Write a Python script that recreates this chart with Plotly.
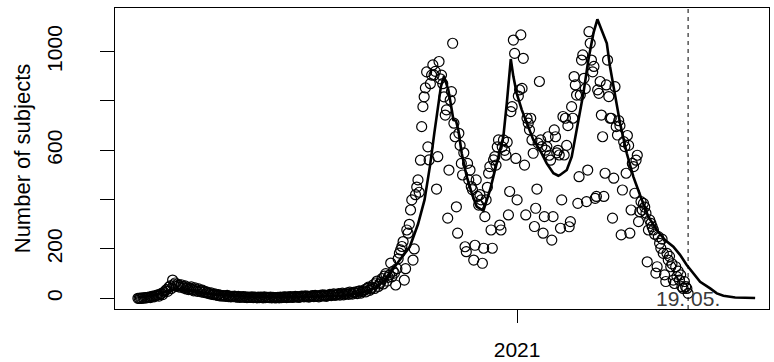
import pandas as pd
import plotly.graph_objects as go

start_date = "2020-03-01"

# daily observed counts (one value per day from start_date), written week by week
daily_counts = [
    0, 0, 1, 0, 2, 1, 3,
    2, 4, 5, 3, 7, 9, 6,
    10, 12, 14, 9, 16, 20, 15,
    25, 30, 35, 28, 45, 50, 40,
    74, 55, 62, 48, 58, 52, 45,
    55, 48, 42, 50, 38, 45, 35,
    40, 46, 36, 30, 42, 34, 28,
    38, 30, 26, 33, 24, 28, 22,
    25, 20, 18, 22, 16, 15, 18,
    14, 12, 15, 10, 12, 9, 11,
    10, 8, 12, 7, 9, 6, 8,
    7, 9, 6, 5, 8, 4, 6,
    5, 7, 4, 6, 3, 5, 4,
    4, 6, 3, 5, 4, 2, 5,
    3, 5, 4, 2, 6, 3, 4,
    4, 3, 5, 2, 4, 3, 2,
    3, 4, 2, 5, 3, 4, 6,
    5, 3, 6, 4, 7, 5, 4,
    6, 8, 5, 7, 4, 6, 9,
    8, 6, 10, 7, 9, 5, 8,
    9, 11, 7, 12, 8, 10, 6,
    12, 9, 14, 10, 13, 8, 11,
    13, 16, 11, 15, 18, 12, 14,
    15, 19, 13, 17, 21, 14, 18,
    18, 22, 16, 25, 20, 17, 24,
    22, 26, 19, 28, 30, 21, 27,
    30, 35, 26, 40, 45, 32, 38,
    45, 55, 40, 62, 70, 48, 58,
    65, 80, 58, 90, 100, 70, 85,
    95, 143, 87, 110, 102, 54, 120,
    160, 183, 196, 210, 230, 74, 120,
    277, 264, 300, 358, 399, 155, 200,
    420, 451, 480, 430, 560, 696, 777,
    817, 853, 918, 614, 561, 870, 905,
    946, 905, 920, 443, 574, 960, 890,
    905, 870, 817, 743, 764, 325, 520,
    804, 838, 1034, 710, 655, 371, 264,
    669, 620, 547, 500, 590, 209, 189,
    547, 480, 520, 453, 440, 155, 215,
    480, 413, 378, 420, 399, 142, 203,
    331, 399, 450, 507, 534, 277, 203,
    561, 574, 540, 614, 642, 297, 277,
    614, 642, 600, 580, 633, 338, 433,
    757, 777, 1047, 993, 567, 399, 820,
    845, 1068, 851, 973, 540, 338, 730,
    710, 683, 730, 642, 588, 291, 365,
    443, 629, 879, 642, 615, 264, 331,
    601, 615, 655, 580, 560, 236, 331,
    683, 655, 590, 600, 581, 284, 399,
    737, 581, 730, 620, 700, 290, 311,
    777, 730, 899, 865, 824, 385, 493,
    824, 966, 987, 892, 850, 392, 520,
    1081, 1034, 966, 918, 940, 405, 413,
    845, 831, 879, 743, 655, 413, 507,
    865, 966, 818, 730, 730, 325, 487,
    858, 696, 662, 720, 700, 257, 439,
    635, 615, 507, 660, 620, 264, 358,
    547, 534, 426, 560, 580, 311, 351,
    392, 358, 385, 370, 345, 148, 277,
    318, 304, 290, 277, 260, 102, 128,
    250, 223, 203, 240, 182, 95, 68,
    182, 155, 170, 128, 140, 74, 60,
    128, 88, 110, 74, 95, 47, 40,
    68, 47, 40, 20,
]

# fitted model curve: day offset from start_date and value
line_day = [0, 14, 27, 40, 60, 90, 130, 165, 180, 192, 200, 207.5, 219.4, 226,
            231.3, 235.8, 239.2, 244.5, 247, 250.5, 253.3, 254.6, 256.7, 258.6,
            261.3, 265.4, 269.4, 273.4, 278.8, 284.2, 288.2, 292.3, 294.9, 297.7,
            299.8, 300.9, 303, 305.7, 309.8, 313.8, 319.1, 324.5, 329.9, 335.3,
            339.3, 340.7, 346.1, 350.1, 354.2, 359.5, 363.5, 367.6, 370.8, 375.6,
            378.4, 381, 385.1, 389.1, 394.5, 399.8, 405.2, 411.9, 418.7, 425.4,
            432.1, 437.5, 442.9, 448.3, 453.7, 461.8, 467.2, 472.5, 482, 498.1]
line_val = [3, 12, 35, 35, 16, 6, 5, 10, 22, 45, 75, 130, 209, 300,
            399, 540, 670, 858, 900, 845, 764, 723, 720, 682,
            588, 493, 426, 372, 355, 440, 520, 601, 655, 791,
            926, 970, 899, 831, 764, 710, 642, 601, 547, 507,
            497, 500, 520, 574, 690, 831, 966, 1075, 1131, 1068,
            1034, 939, 818, 710, 588, 493, 419, 331, 277, 236,
            209, 176, 135, 101, 67, 40, 20, 10, 3, 1]

marker_date = "2021-05-19"
marker_label = "19. 05."
x_tick_vals = ["2021-01-01"]
x_tick_text = ["2021"]
y_tick_vals = [0, 200, 400, 600, 800, 1000]
y_tick_text = ["0", "200", "", "600", "", "1000"]

t0 = pd.Timestamp(start_date)
point_dates = pd.date_range(t0, periods=len(daily_counts), freq="D")
line_dates = [t0 + pd.Timedelta(days=d) for d in line_day]

FONT = "Liberation Sans, Arial, Helvetica, sans-serif"

fig = go.Figure()
fig.add_trace(go.Scatter(
    x=point_dates, y=daily_counts, mode="markers",
    marker=dict(symbol="circle-open", size=10, color="black",
                line=dict(color="black", width=1.2)),
    showlegend=False, hoverinfo="skip"))
fig.add_trace(go.Scatter(
    x=line_dates, y=line_val, mode="lines",
    line=dict(color="black", width=2.6),
    showlegend=False, hoverinfo="skip"))

fig.add_shape(type="line", xref="x", yref="paper",
              x0=marker_date, x1=marker_date, y0=0, y1=1,
              line=dict(color="black", width=1, dash="4px,4px"))
fig.add_annotation(x=marker_date, y=0, xref="x", yref="y", text=marker_label,
                   showarrow=False, xanchor="center", yanchor="middle",
                   font=dict(family=FONT, size=21, color="#3a3a3a"))

fig.update_layout(
    width=774, height=362,
    margin=dict(l=115, r=5, t=8, b=53, autoexpand=False),
    paper_bgcolor="white", plot_bgcolor="white",
    font=dict(family=FONT, size=21, color="black"),
)
fig.update_xaxes(
    type="date", automargin=False,
    range=["2020-02-11 12:00", "2021-07-23 07:00"],
    tickvals=x_tick_vals, ticktext=x_tick_text,
    ticks="outside", ticklen=13, tickwidth=1, tickcolor="black",
    ticklabelstandoff=9,
    showline=True, linecolor="black", linewidth=1, mirror=True,
    showgrid=False, zeroline=False,
    tickfont=dict(family=FONT, size=21, color="black"),
)
fig.update_yaxes(
    automargin=False,
    range=[-43.4, 1177],
    tickvals=y_tick_vals, ticktext=y_tick_text,
    ticks="outside", ticklen=14, tickwidth=1, tickcolor="black",
    tickangle=-90, ticklabelstandoff=30,
    showline=True, linecolor="black", linewidth=1, mirror=True,
    showgrid=False, zeroline=False,
    tickfont=dict(family=FONT, size=21, color="black"),
    title=dict(text="Number of subjects", standoff=5,
               font=dict(family=FONT, size=22, color="black")),
)

fig.write_html("out.html")
